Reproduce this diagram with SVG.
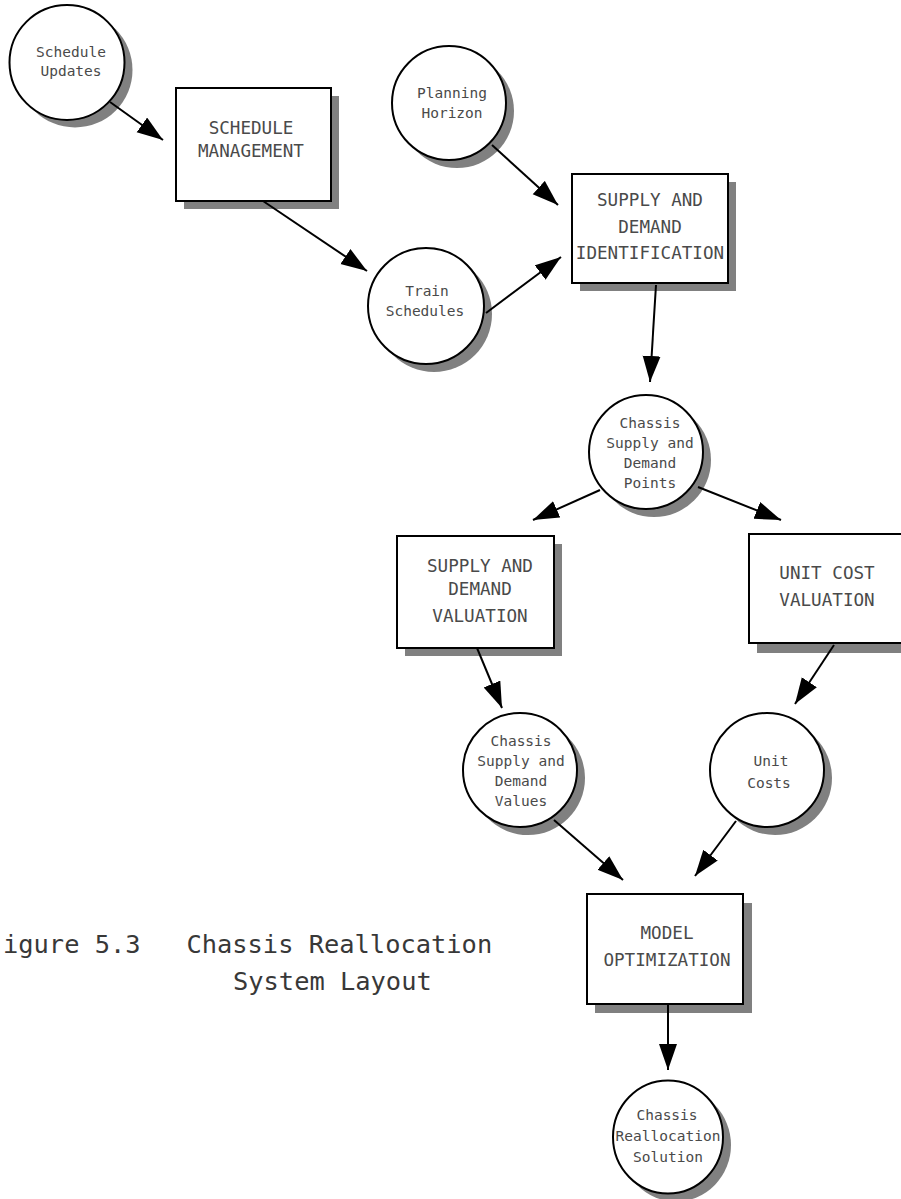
<svg xmlns="http://www.w3.org/2000/svg" width="901" height="1199" viewBox="0 0 901 1199">
<style>
.sh{fill:#808080;stroke:none}
.nd{fill:#fff;stroke:#000;stroke-width:2}
.bt{font-family:"DejaVu Sans Mono","Liberation Mono",monospace;font-size:17.6px;fill:#4a4a4a;text-anchor:middle}
.ct{font-family:"DejaVu Sans Mono","Liberation Mono",monospace;font-size:14.5px;fill:#4a4a4a;text-anchor:middle}
.cap{font-family:"DejaVu Sans Mono","Liberation Mono",monospace;font-size:25.4px;fill:#383838}
.cn{stroke:#000;stroke-width:2;fill:none;marker-end:url(#ah)}
</style>
<defs>
<marker id="ah" markerUnits="userSpaceOnUse" markerWidth="28" markerHeight="20" refX="26" refY="9" orient="auto">
<path d="M0,0 L26,9 L0,18 Z" fill="#000"/>
</marker>
</defs>
<rect width="901" height="1199" fill="#fff"/>
<g id="schedule-updates">
<circle class="sh" cx="75" cy="70" r="57.5"/>
<circle class="nd" cx="67" cy="62.5" r="57.5"/>
<text class="ct" x="71" y="57">Schedule</text>
<text class="ct" x="71" y="76">Updates</text>
</g>
<g id="schedule-management">
<rect class="sh" x="184" y="96" width="155" height="113"/>
<rect class="nd" x="176" y="88" width="155" height="113"/>
<text class="bt" x="251" y="134">SCHEDULE</text>
<text class="bt" x="251" y="157">MANAGEMENT</text>
</g>
<g id="planning-horizon">
<circle class="sh" cx="457" cy="111" r="57"/>
<circle class="nd" cx="449" cy="103" r="57"/>
<text class="ct" x="452" y="98">Planning</text>
<text class="ct" x="452" y="118">Horizon</text>
</g>
<g id="train-schedules">
<circle class="sh" cx="434" cy="314" r="58"/>
<circle class="nd" cx="426" cy="306" r="58"/>
<text class="ct" x="427" y="296">Train</text>
<text class="ct" x="425" y="316">Schedules</text>
</g>
<g id="supply-demand-identification">
<rect class="sh" x="580" y="182" width="156" height="109"/>
<rect class="nd" x="572" y="174" width="156" height="109"/>
<text class="bt" x="650" y="206">SUPPLY AND</text>
<text class="bt" x="650" y="233">DEMAND</text>
<text class="bt" x="650" y="259">IDENTIFICATION</text>
</g>
<g id="chassis-sd-points">
<circle class="sh" cx="654" cy="460" r="57"/>
<circle class="nd" cx="646" cy="452" r="57"/>
<text class="ct" x="650" y="428">Chassis</text>
<text class="ct" x="650" y="448">Supply and</text>
<text class="ct" x="650" y="468">Demand</text>
<text class="ct" x="650" y="488">Points</text>
</g>
<g id="supply-demand-valuation">
<rect class="sh" x="405" y="544" width="157" height="112"/>
<rect class="nd" x="397" y="536" width="157" height="112"/>
<text class="bt" x="480" y="572">SUPPLY AND</text>
<text class="bt" x="480" y="595">DEMAND</text>
<text class="bt" x="480" y="622">VALUATION</text>
</g>
<g id="unit-cost-valuation">
<rect class="sh" x="757" y="543" width="156" height="110"/>
<rect class="nd" x="749" y="534" width="156" height="109"/>
<text class="bt" x="827" y="579">UNIT COST</text>
<text class="bt" x="827" y="606">VALUATION</text>
</g>
<g id="chassis-sd-values">
<circle class="sh" cx="528" cy="778" r="57"/>
<circle class="nd" cx="520" cy="770" r="57"/>
<text class="ct" x="521" y="746">Chassis</text>
<text class="ct" x="521" y="766">Supply and</text>
<text class="ct" x="521" y="786">Demand</text>
<text class="ct" x="521" y="806">Values</text>
</g>
<g id="unit-costs">
<circle class="sh" cx="775" cy="778" r="57"/>
<circle class="nd" cx="767" cy="770" r="57"/>
<text class="ct" x="771" y="766">Unit</text>
<text class="ct" x="769" y="788">Costs</text>
</g>
<g id="model-optimization">
<rect class="sh" x="595" y="903" width="157" height="110"/>
<rect class="nd" x="587" y="894" width="156" height="110"/>
<text class="bt" x="667" y="939">MODEL</text>
<text class="bt" x="667" y="966">OPTIMIZATION</text>
</g>
<g id="chassis-reallocation-solution">
<ellipse class="sh" cx="676" cy="1145" rx="55" ry="56.5"/>
<ellipse class="nd" cx="668" cy="1137" rx="55" ry="56.5"/>
<text class="ct" x="667" y="1120">Chassis</text>
<text class="ct" x="668" y="1141">Reallocation</text>
<text class="ct" x="668" y="1162">Solution</text>
</g>
<g id="connectors">
<line class="cn" x1="110" y1="102" x2="163" y2="140"/>
<line class="cn" x1="263" y1="201" x2="367" y2="271"/>
<line class="cn" x1="492" y1="145" x2="558" y2="205"/>
<line class="cn" x1="486" y1="313" x2="561" y2="257"/>
<line class="cn" x1="656" y1="285" x2="650" y2="382"/>
<line class="cn" x1="600" y1="490" x2="533" y2="520"/>
<line class="cn" x1="698" y1="487" x2="781" y2="520"/>
<line class="cn" x1="477" y1="648" x2="502" y2="708"/>
<line class="cn" x1="834" y1="645" x2="795" y2="704"/>
<line class="cn" x1="554" y1="820" x2="623" y2="880"/>
<line class="cn" x1="736" y1="821" x2="695" y2="876"/>
<line class="cn" x1="668" y1="1004" x2="668" y2="1070"/>
</g>
<g id="caption">
<text class="cap" x="3" y="953" xml:space="preserve">igure 5.3   Chassis Reallocation</text>
<text class="cap" x="233" y="990">System Layout</text>
</g>
</svg>
